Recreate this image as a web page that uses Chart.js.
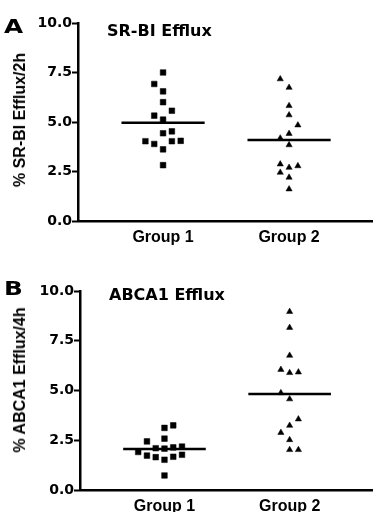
<!DOCTYPE html>
<html lang="en">
<head>
    <meta charset="UTF-8">
    <title>SR-BI and ABCA1 Efflux</title>
    <script src="https://cdn.jsdelivr.net/npm/chart.js"></script>
    <style>
        body {
            margin: 0;
            background: #fff;
        }

        .panel {
            position: relative;
            width: 377px;
            height: 256px;
        }

        .letter {
            position: absolute;
            font-family: "DejaVu Sans", sans-serif;
            font-weight: bold;
            font-size: 19px;
            line-height: 1;
            transform: scaleX(1.3);
            transform-origin: left top;
        }

        .title {
            position: absolute;
            font-family: "DejaVu Sans", sans-serif;
            font-weight: bold;
            font-size: 16px;
            line-height: 1;
            white-space: nowrap;
        }

        /* rotated y axis titles */
        .ytitle {
            position: absolute;
            font-family: "Liberation Sans", Arial, sans-serif;
            font-weight: bold;
            font-size: 16px;
            line-height: 1;
            white-space: nowrap;
            transform: translate(-50%, -50%) rotate(-90deg);
        }
    </style>
</head>
<body>
    <div class="panel">
        <canvas id="chartA"></canvas>
        <div class="letter" style="left:4px; top:17px;">A</div>
        <div class="title" style="left:107px; top:23px;">SR-BI Efflux</div>
        <div class="ytitle" style="left:19.5px; top:120px;">% SR-BI Efflux/2h</div>
    </div>
    <div class="panel">
        <canvas id="chartB"></canvas>
        <div class="letter" style="left:4px; top:23px;">B</div>
        <div class="title" style="left:109px; top:31px;">ABCA1 Efflux</div>
        <div class="ytitle" style="left:19.5px; top:124px;">% ABCA1 Efflux/4h</div>
    </div>

    <script>
        const groups = ["Group 1", "Group 2"];
        const yTicks = [0, 2.5, 5, 7.5, 10];

        // A: SR-BI efflux, % per 2h (column = slot left/right of the group centre)
        const srbiGroup1 = [7.5, 6.92, 6.55, 6.0, 5.57, 5.32, 5.12, 4.43, 4.53, 4.03, 3.89, 4.03, 4.05, 3.62, 2.82];
        const srbiGroup1Col = [0, -1, 0, 0, 1, -1, 0, 0, 1, -2, -1, 1, 2, 0, 0];
        const srbiGroup2 = [7.17, 6.74, 5.82, 5.35, 4.84, 4.41, 4.18, 3.84, 2.87, 2.7, 2.78, 2.45, 2.2, 1.61];
        const srbiGroup2Col = [-1, 0, 0, 0, 1, 0, -1, 0, -1, 0, 1, -1, 0, 0];
        const srbiMedians = [4.96, 4.09];

        // B: ABCA1 efflux, % per 4h
        const abcaGroup1 = [3.25, 3.12, 2.58, 2.44, 1.91, 1.73, 2.1, 2.08, 1.65, 1.52, 1.67, 2.14, 2.18, 1.77, 0.73];
        const abcaGroup1Col = [1, 0, 0, -2, -3, -2, -1, 0, -1, 0, 1, 1, 2, 2, 0];
        const abcaGroup2 = [8.96, 8.16, 6.76, 6.05, 5.89, 5.92, 4.88, 4.57, 3.56, 3.24, 2.88, 2.52, 2.02, 2.02];
        const abcaGroup2Col = [0, 0, 0, -1, 0, 1, -1, 0, 1, 0, -1, 0, 0, 1];
        const abcaMedians = [2.06, 4.82];

        const colStep = 0.07;
        const medianHalf = 0.33;

        function points(values, cols, groupNo) {
            return values.map((v, i) => ({ x: groupNo + cols[i] * colStep, y: v }));
        }

        function medianLine(value, groupNo) {
            return {
                type: 'line',
                data: [{ x: groupNo - medianHalf, y: value }, { x: groupNo + medianHalf, y: value }],
                borderColor: '#000',
                borderWidth: 2.5,
                pointRadius: 0,
                showLine: true
            };
        }

        function makePanel(id, g1, g1Col, g2, g2Col, medians, top, bottomH, axisLeft) {
            new Chart(document.getElementById(id), {
                type: 'scatter',
                data: {
                    datasets: [
                        {
                            data: points(g1, g1Col, 1),
                            pointStyle: 'rect',
                            pointRadius: 4,
                            backgroundColor: '#000',
                            borderColor: '#000',
                            borderWidth: 0.5
                        },
                        {
                            data: points(g2, g2Col, 2),
                            pointStyle: 'triangle',
                            pointRadius: 3.6,
                            backgroundColor: '#000',
                            borderColor: '#000',
                            borderWidth: 0.5
                        },
                        medianLine(medians[0], 1),
                        medianLine(medians[1], 2)
                    ]
                },
                options: {
                    responsive: true,
                    maintainAspectRatio: false,
                    animation: false,
                    layout: { padding: { top: top, left: 0, right: 0, bottom: 0 } },
                    plugins: {
                        legend: { display: false },
                        tooltip: { enabled: false }
                    },
                    scales: {
                        x: {
                            type: 'linear',
                            min: 0.325,
                            max: 2.662,
                            afterFit: s => { s.height = bottomH; },
                            afterBuildTicks: s => { s.ticks = groups.map((g, i) => ({ value: i + 1 })); },
                            grid: { display: false },
                            border: { display: true, color: '#000', width: 2.5 },
                            ticks: {
                                color: '#000',
                                padding: -1,
                                autoSkip: false,
                                maxRotation: 0,
                                font: { family: 'Liberation Sans, Arial', weight: 'bold', size: 16 },
                                callback: v => groups[v - 1]
                            }
                        },
                        y: {
                            min: 0,
                            max: 10,
                            afterFit: s => { s.width = axisLeft; },
                            afterBuildTicks: s => { s.ticks = yTicks.map(v => ({ value: v })); },
                            grid: {
                                drawOnChartArea: false,
                                drawTicks: true,
                                tickLength: 6,
                                tickWidth: 2,
                                tickColor: '#000',
                                color: '#000'
                            },
                            border: { display: true, color: '#000', width: 2.5 },
                            ticks: {
                                color: '#000',
                                padding: 0,
                                font: { family: 'DejaVu Sans', weight: 'bold', size: 14 },
                                callback: v => v.toFixed(1)
                            }
                        }
                    }
                }
            });
        }

        makePanel('chartA', srbiGroup1, srbiGroup1Col, srbiGroup2, srbiGroup2Col, srbiMedians, 23, 35, 78);
        makePanel('chartB', abcaGroup1, abcaGroup1Col, abcaGroup2, abcaGroup2Col, abcaMedians, 35, 22, 80);
    </script>
</body>
</html>
